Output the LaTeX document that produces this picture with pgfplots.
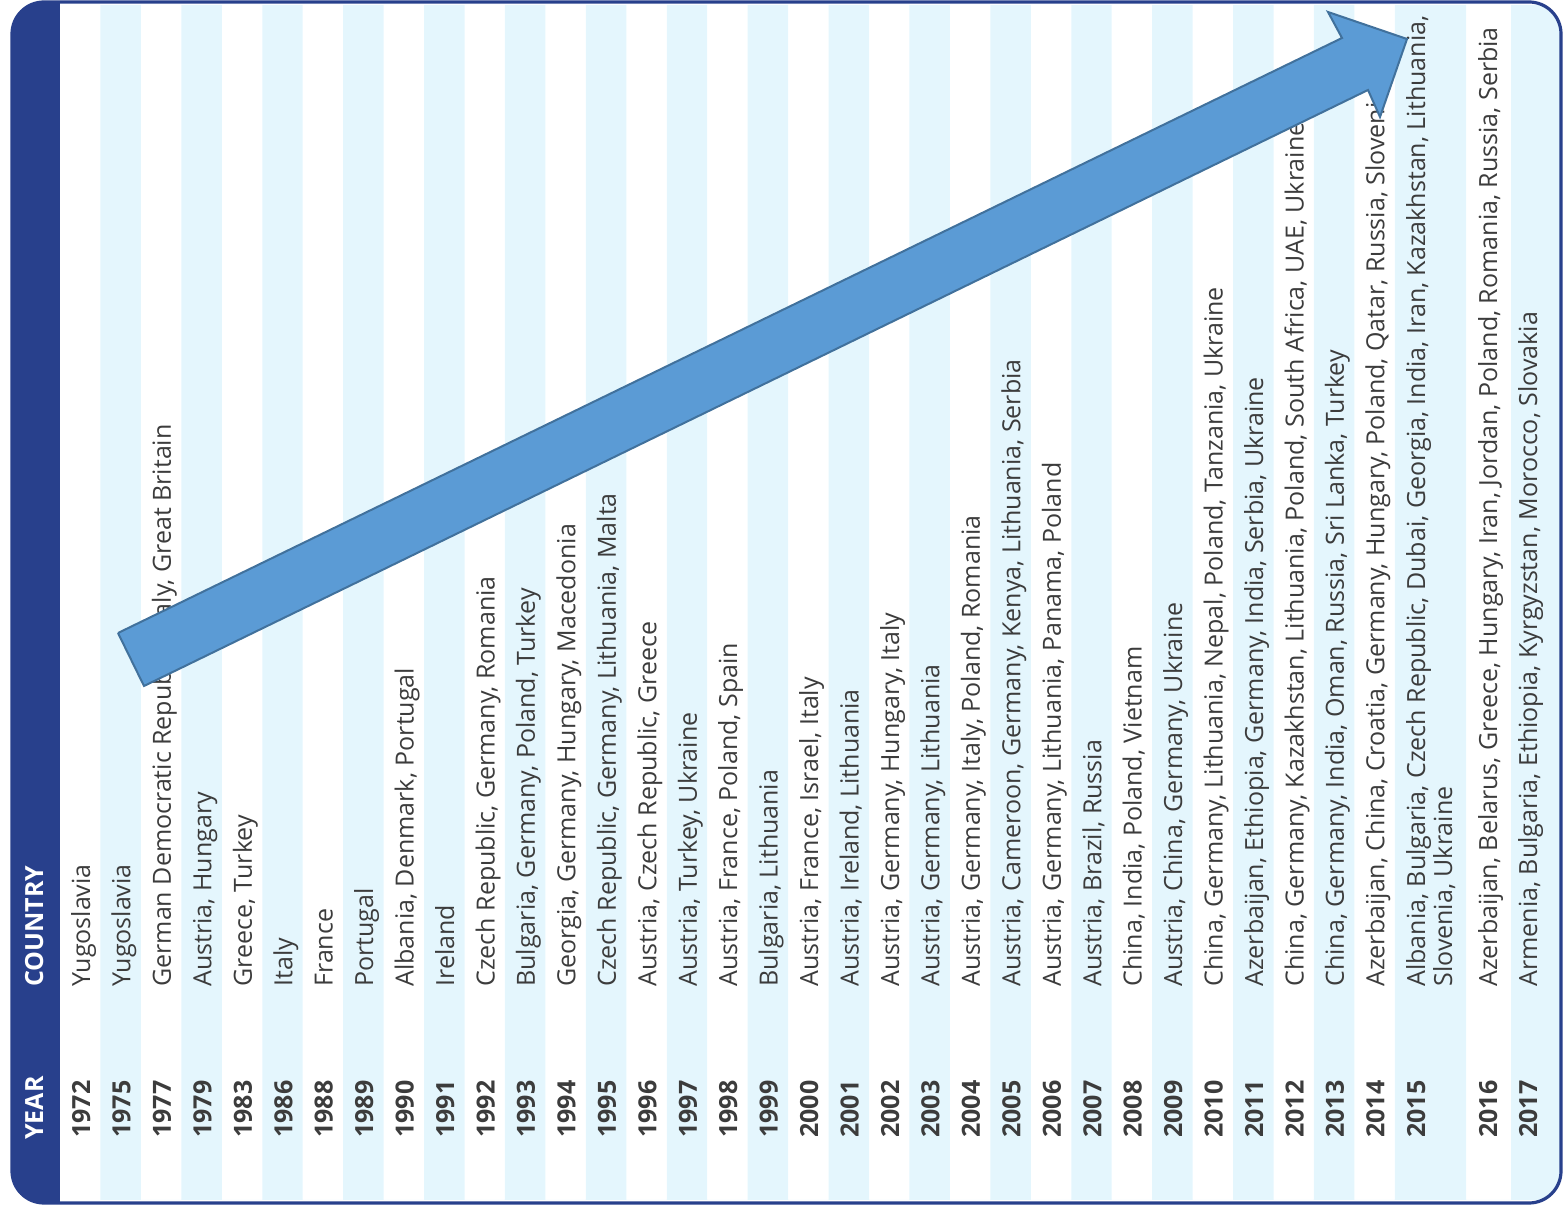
\documentclass[border=0pt]{standalone}
\usepackage{fontspec}
\setmainfont{Open Sans}
\usepackage{pgfplots}
\pgfplotsset{compat=1.18}
\definecolor{navy}{RGB}{40,64,140}
\definecolor{stripe}{RGB}{228,246,253}
\definecolor{arrowfill}{RGB}{91,155,213}
\definecolor{arrowline}{RGB}{65,113,156}
\definecolor{txt}{RGB}{60,60,60}
\newcommand\fs{\fontsize{12.5bp}{13.5bp}\selectfont}
\newcommand\R[3]{%
  \node[rotate=90,anchor=base west,inner sep=0pt,text=txt,font=\bfseries\fs] at (axis cs:#1,62) {#2};
  \node[rotate=90,anchor=base west,inner sep=0pt,text=txt,font=\fs] at (axis cs:#1,213) {#3};}
\begin{document}
\begin{tikzpicture}
\begin{axis}[
  width=781.5bp, height=605bp, scale only axis,
  xmin=0, xmax=1563, ymin=-10, ymax=1200,
  hide axis, clip=false,
]
\path (axis cs:0,-10) rectangle (axis cs:1563,1200);
% alternating row stripes (row boundaries in px)
\addplot[ybar interval, fill=stripe, draw=none] coordinates {
(100.45,1195) (140.9,0) (181.35,1195) (221.8,0) (262.25,1195) (302.7,0)
(343.15,1195) (383.6,0) (424.05,1195) (464.5,0) (504.95,1195) (545.4,0)
(585.85,1195) (626.3,0) (666.75,1195) (707.2,0) (747.65,1195) (788.1,0)
(828.55,1195) (869.0,0) (909.45,1195) (949.9,0) (990.35,1195) (1030.8,0)
(1071.25,1195) (1111.7,0) (1152.15,1195) (1192.6,0) (1233.05,1195) (1273.5,0)
(1313.95,1195) (1354.4,0) (1394.85,1195) (1466,0) (1511,1195) (1561,0)};
% header band
\fill[navy] (axis cs:12,-3) rectangle (axis cs:60,1198);
\node[rotate=90,anchor=base west,inner sep=0pt,text=white,font=\bfseries\fs] at (axis cs:43,60) {YEAR};
\node[rotate=90,anchor=base west,inner sep=0pt,text=white,font=\bfseries\fs] at (axis cs:43,213) {COUNTRY};
% rows
\R{90}{1972}{Yugoslavia}
\R{130.45}{1975}{Yugoslavia}
\R{170.9}{1977}{German Democratic Republic, Italy, Great Britain}
\R{211.35}{1979}{Austria, Hungary}
\R{251.8}{1983}{Greece, Turkey}
\R{292.25}{1986}{Italy}
\R{332.7}{1988}{France}
\R{373.15}{1989}{Portugal}
\R{413.6}{1990}{Albania, Denmark, Portugal}
\R{454.05}{1991}{Ireland}
\R{494.5}{1992}{Czech Republic, Germany, Romania}
\R{534.95}{1993}{Bulgaria, Germany, Poland, Turkey}
\R{575.4}{1994}{Georgia, Germany, Hungary, Macedonia}
\R{615.85}{1995}{Czech Republic, Germany, Lithuania, Malta}
\R{656.3}{1996}{Austria, Czech Republic, Greece}
\R{696.75}{1997}{Austria, Turkey, Ukraine}
\R{737.2}{1998}{Austria, France, Poland, Spain}
\R{777.65}{1999}{Bulgaria, Lithuania}
\R{818.1}{2000}{Austria, France, Israel, Italy}
\R{858.55}{2001}{Austria, Ireland, Lithuania}
\R{899.0}{2002}{Austria, Germany, Hungary, Italy}
\R{939.45}{2003}{Austria, Germany, Lithuania}
\R{979.9}{2004}{Austria, Germany, Italy, Poland, Romania}
\R{1020.35}{2005}{Austria, Cameroon, Germany, Kenya, Lithuania, Serbia}
\R{1060.8}{2006}{Austria, Germany, Lithuania, Panama, Poland}
\R{1101.25}{2007}{Austria, Brazil, Russia}
\R{1141.7}{2008}{China, India, Poland, Vietnam}
\R{1182.15}{2009}{Austria, China, Germany, Ukraine}
\R{1222.6}{2010}{China, Germany, Lithuania, Nepal, Poland, Tanzania, Ukraine}
\R{1263.05}{2011}{Azerbaijan, Ethiopia, Germany, India, Serbia, Ukraine}
\R{1303.5}{2012}{China, Germany, Kazakhstan, Lithuania, Poland, South Africa, UAE, Ukraine}
\R{1343.95}{2013}{China, Germany, India, Oman, Russia, Sri Lanka, Turkey}
\R{1384.4}{2014}{Azerbaijan, China, Croatia, Germany, Hungary, Poland, Qatar, Russia, Slovenia}
\R{1425}{2015}{Albania, Bulgaria, Czech Republic, Dubai, Georgia, India, Iran, Kazakhstan, Lithuania,}
\node[rotate=90,anchor=base west,inner sep=0pt,text=txt,font=\fs] at (axis cs:1452,213) {Slovenia, Ukraine};
\R{1497}{2016}{Azerbaijan, Belarus, Greece, Hungary, Iran, Jordan, Poland, Romania, Russia, Serbia}
\R{1537}{2017}{Armenia, Bulgaria, Ethiopia, Kyrgyzstan, Morocco, Slovakia}
% arrow
\addplot[fill=arrowfill, draw=arrowline, line width=1bp, line join=miter] coordinates {
(118,567) (1342,1162) (1328,1188) (1407,1161) (1380,1083) (1368,1110) (144,514) (118,567)};
% mask outside rounded frame and frame border
\fill[white, even odd rule] (axis cs:0,-10) rectangle (axis cs:1563,1200)
  [rounded corners=16bp] (axis cs:12,-3) rectangle (axis cs:1561,1198);
\draw[navy, line width=1.6bp, rounded corners=16bp] (axis cs:12,-3) rectangle (axis cs:1561,1198);
\end{axis}
\end{tikzpicture}
\end{document}
